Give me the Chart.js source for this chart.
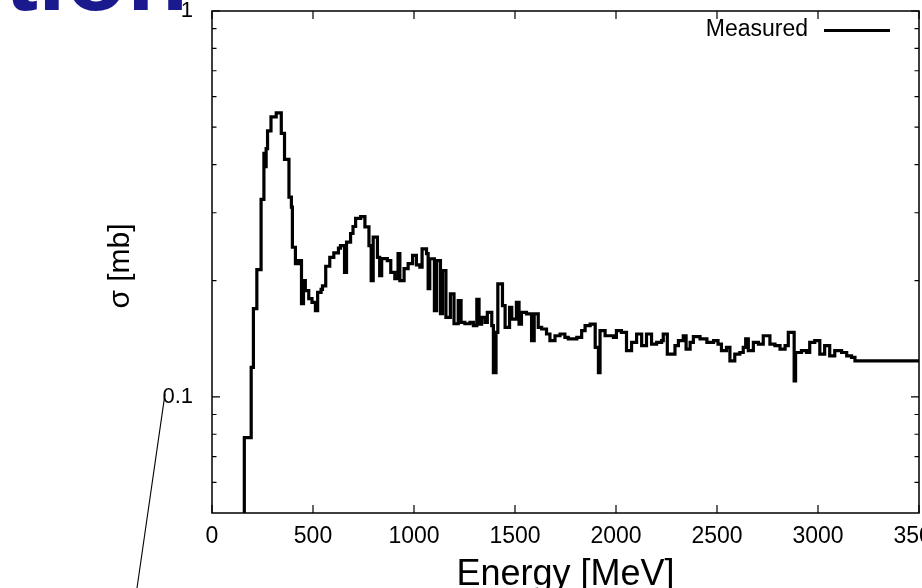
<!DOCTYPE html>
<html><head><meta charset="utf-8">
<script src="https://cdn.jsdelivr.net/npm/chart.js@4"></script>
<style>html,body{margin:0;padding:0;background:#fff;overflow:hidden}canvas{display:block}</style>
</head><body>
<canvas id="c" width="922" height="588"></canvas>
<script>
// Bin start energies (MeV); the last entry is the end of the final bin
const energy = [140,160,194,205,222,243,257,263,268,275,292,318,343,359,381,393,398,413,429,443,453,462,479,495,512,523,540,547,563,583,603,626,636,656,666,686,698,711,736,757,777,788,798,819,830,840,868,885,905,921,930,951,971,993,1012,1029,1040,1062,1070,1078,1101,1112,1131,1141,1158,1180,1198,1219,1233,1252,1277,1294,1311,1322,1335,1352,1363,1385,1393,1406,1415,1438,1451,1473,1484,1507,1520,1532,1557,1582,1595,1615,1632,1656,1673,1698,1723,1747,1764,1806,1830,1847,1872,1897,1913,1921,1946,1987,2002,2027,2052,2077,2102,2127,2151,2176,2201,2226,2234,2254,2292,2309,2333,2347,2367,2383,2416,2450,2483,2505,2522,2547,2564,2588,2613,2630,2642,2655,2680,2705,2729,2762,2787,2812,2837,2853,2882,2889,2918,2943,2959,2984,3009,3033,3058,3083,3117,3142,3166,3183,3500];
// Cross section in each bin (mb)
const sigma = [0.03,0.0784,0.1192,0.1693,0.2137,0.3248,0.4278,0.395,0.44,0.4888,0.5314,0.5444,0.482,0.4126,0.3294,0.3102,0.2442,0.2215,0.2255,0.1744,0.2001,0.1885,0.1797,0.1758,0.1673,0.1866,0.19,0.194,0.218,0.23,0.236,0.243,0.2467,0.2103,0.2517,0.2651,0.2764,0.29,0.293,0.2756,0.2467,0.2001,0.2593,0.23,0.2062,0.2282,0.2255,0.2103,0.2025,0.2351,0.2001,0.215,0.2215,0.2325,0.2197,0.2167,0.2418,0.2351,0.1907,0.228,0.1673,0.2255,0.1643,0.2125,0.1607,0.1848,0.1547,0.1776,0.1559,0.1547,0.1559,0.1529,0.179,0.1544,0.1607,0.1559,0.1656,0.1529,0.1156,0.1469,0.1962,0.1723,0.1514,0.1706,0.1591,0.1758,0.1544,0.1656,0.164,0.1398,0.164,0.1514,0.1499,0.1455,0.1398,0.144,0.1455,0.1426,0.1413,0.1426,0.1484,0.1529,0.1544,0.1343,0.1156,0.1484,0.144,0.1426,0.1484,0.1469,0.1317,0.1384,0.1455,0.1357,0.1455,0.137,0.1384,0.1398,0.1455,0.1291,0.1357,0.1398,0.144,0.133,0.1384,0.1432,0.1413,0.1384,0.1398,0.137,0.1317,0.1343,0.124,0.1291,0.1303,0.1343,0.1413,0.1317,0.1384,0.137,0.144,0.137,0.1357,0.133,0.1357,0.1469,0.11,0.1303,0.1317,0.1303,0.1384,0.1398,0.1291,0.1357,0.1277,0.1317,0.1303,0.1277,0.1265,0.124];
const xTickValues = [0,500,1000,1500,2000,2500,3000,3500];
const xTickLabels = ['0','500','1000','1500','2000','2500','3000','3500'];
const yTickValues = [0.1,1];
const yTickLabels = ['0.1','1'];
const yMinorValues = [0.06,0.07,0.08,0.09,0.2,0.3,0.4,0.5,0.6,0.7,0.8,0.9];
const seriesLabel = 'Measured';
const xTitle = 'Energy [MeV]';
const yTitle = 'σ [mb]';
const slideTitleFragment = 'tion';

const FONT = '"Liberation Sans", Arial, Helvetica, sans-serif';
const points = sigma.map((v, i) => ({x: energy[i], y: v}));
points.push({x: energy[energy.length - 1], y: sigma[sigma.length - 1]});

const framePlugin = {
  id: 'gnuplotFrame',
  afterDatasetsDraw(chart) {
    const {ctx, chartArea: a, scales: {x, y}} = chart;
    ctx.save();
    // frame
    ctx.strokeStyle = '#000';
    ctx.lineWidth = 1.5;
    ctx.strokeRect(a.left, a.top, a.right - a.left, a.bottom - a.top);
    // inward ticks
    ctx.lineWidth = 1.2;
    ctx.beginPath();
    xTickValues.forEach(v => {
      const px = x.getPixelForValue(v);
      ctx.moveTo(px, a.bottom); ctx.lineTo(px, a.bottom - 8);
      ctx.moveTo(px, a.top); ctx.lineTo(px, a.top + 8);
    });
    yTickValues.forEach(v => {
      const py = y.getPixelForValue(v);
      ctx.moveTo(a.left, py); ctx.lineTo(a.left + 8, py);
      ctx.moveTo(a.right, py); ctx.lineTo(a.right - 8, py);
    });
    yMinorValues.forEach(v => {
      const py = y.getPixelForValue(v);
      ctx.moveTo(a.left, py); ctx.lineTo(a.left + 4.5, py);
      ctx.moveTo(a.right, py); ctx.lineTo(a.right - 4.5, py);
    });
    ctx.stroke();
    // legend
    ctx.fillStyle = '#000';
    ctx.font = '23px ' + FONT;
    ctx.textAlign = 'right';
    ctx.textBaseline = 'middle';
    ctx.fillText(seriesLabel, a.right - 111, a.top + 19);
    ctx.lineWidth = 3;
    ctx.beginPath();
    ctx.moveTo(a.right - 95, a.top + 19.5);
    ctx.lineTo(a.right - 29, a.top + 19.5);
    ctx.stroke();
    // axis titles
    ctx.font = '36px ' + FONT;
    ctx.textAlign = 'center';
    ctx.textBaseline = 'alphabetic';
    ctx.fillText(xTitle, (a.left + a.right) / 2, 585);
    ctx.save();
    ctx.translate(121, 266);
    ctx.rotate(-Math.PI / 2);
    ctx.font = '30px ' + FONT;
    ctx.textBaseline = 'middle';
    ctx.fillText(yTitle, 0, 0);
    ctx.restore();
    // slide title fragment
    ctx.fillStyle = '#1a1a8e';
    ctx.font = 'bold 100px ' + FONT;
    ctx.textAlign = 'right';
    ctx.textBaseline = 'alphabetic';
    ctx.fillText(slideTitleFragment, 188, 9.5);
    // pointer line
    const py = y.getPixelForValue(0.1);
    ctx.strokeStyle = '#000';
    ctx.lineWidth = 1.1;
    ctx.beginPath();
    ctx.moveTo(a.left - 47, py - 3);
    ctx.lineTo(a.left - 75, 588);
    ctx.stroke();
    ctx.restore();
  }
};

new Chart(document.getElementById('c'), {
  type: 'line',
  data: {datasets: [{
    label: seriesLabel, data: points, stepped: 'before',
    borderColor: '#000', borderWidth: 3.2, pointRadius: 0, fill: false,
    borderJoinStyle: 'miter', borderCapStyle: 'butt'
  }]},
  options: {
    responsive: false, animation: false, devicePixelRatio: 1,
    layout: {padding: {top: 11, right: 3, left: 0, bottom: 0}},
    plugins: {legend: {display: false}, tooltip: {enabled: false}},
    scales: {
      x: {
        type: 'linear', min: 0, max: 3500,
        grid: {display: false, drawTicks: false}, border: {display: false},
        afterBuildTicks: s => { s.ticks = xTickValues.map(v => ({value: v})); },
        afterFit: s => { s.height = 75; s.paddingLeft = 0; s.paddingRight = 0; },
        ticks: {autoSkip: false, maxRotation: 0, padding: 10, color: '#000',
          font: {family: FONT, size: 23},
          callback: (v, i) => xTickLabels[i]}
      },
      y: {
        type: 'logarithmic', min: 0.05, max: 1,
        grid: {display: false, drawTicks: false}, border: {display: false},
        afterBuildTicks: s => { s.ticks = yTickValues.map(v => ({value: v})); },
        afterFit: s => { s.width = 212; s.paddingTop = 0; s.paddingBottom = 0; },
        ticks: {autoSkip: false, padding: 19, color: '#000',
          font: {family: FONT, size: 22},
          callback: (v, i) => yTickLabels[i]}
      }
    }
  },
  plugins: [framePlugin]
});
</script>
</body></html>
